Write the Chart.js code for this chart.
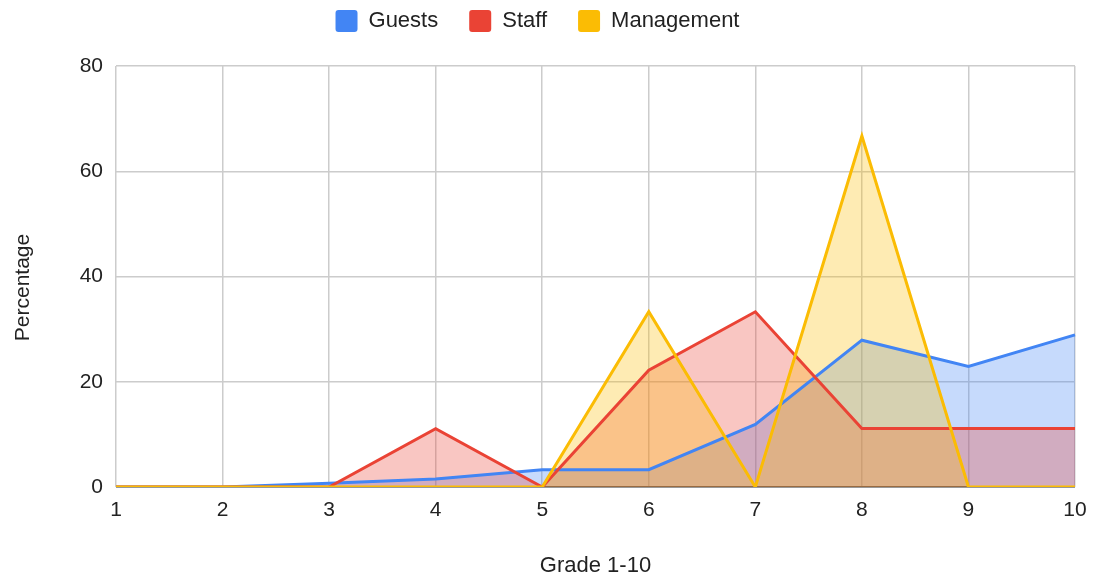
<!DOCTYPE html>
<html>
<head>
<meta charset="utf-8">
<script src="https://cdn.jsdelivr.net/npm/chart.js@4"></script>
<style>
  html, body { margin: 0; padding: 0; background: #fff; }
  #wrap { width: 1098px; height: 579px; position: relative; }
</style>
</head>
<body>
<div id="wrap"><canvas id="c"></canvas></div>
<script>
// Grade distribution, percentage of respondents per grade
const grades = ['1', '2', '3', '4', '5', '6', '7', '8', '9', '10'];
const guests = [0, 0, 0.7, 1.5, 3.3, 3.3, 11.9, 27.9, 22.9, 28.9];
const staff = [0, 0, 0, 11.1, 0, 22.2, 33.3, 11.1, 11.1, 11.1];
const management = [0, 0, 0, 0, 0, 33.3, 0, 66.7, 0, 0];
const yTicks = [0, 20, 40, 60, 80];
const yTitle = 'Percentage';

const FONT = "'Liberation Sans', Arial, sans-serif";
const LEGEND_BOTTOM = 66; // plot area starts right below the legend band

function series(label, data, line, fill, order) {
  return {
    label, data, order,
    borderColor: line,
    backgroundColor: fill,
    borderWidth: 3,
    fill: 'origin',
    pointRadius: 0,
    pointHoverRadius: 0,
    tension: 0
  };
}

// Give the legend a fixed band height so the plot starts where wanted
const legendBand = {
  id: 'legendBand',
  afterInit(chart) {
    const lg = chart.legend;
    if (!lg) return;
    const fit = lg.fit;
    lg.fit = function () {
      fit.call(this);
      if (this.isHorizontal()) this.height = LEGEND_BOTTOM - chart.options.layout.padding.top;
    };
  }
};

// Vertical axis title, drawn a little below the plot's middle
const yAxisTitle = {
  id: 'yAxisTitle',
  afterDraw(chart) {
    const { ctx, chartArea } = chart;
    ctx.save();
    ctx.translate(23, (chartArea.top + chartArea.bottom) / 2 + 11);
    ctx.rotate(-Math.PI / 2);
    ctx.fillStyle = '#222';
    ctx.font = '21px ' + FONT;
    ctx.textAlign = 'center';
    ctx.textBaseline = 'middle';
    ctx.fillText(yTitle, 0, 0);
    ctx.restore();
  }
};

new Chart(document.getElementById('c'), {
  type: 'line',
  plugins: [legendBand, yAxisTitle],
  data: {
    labels: grades,
    datasets: [
      series('Guests', guests, '#4285F4', 'rgba(66,133,244,0.3)', 2),
      series('Staff', staff, '#EA4335', 'rgba(234,67,53,0.3)', 1),
      series('Management', management, '#FBBC04', 'rgba(251,188,4,0.3)', 0)
    ]
  },
  options: {
    responsive: true,
    maintainAspectRatio: false,
    animation: false,
    layout: { padding: { top: -21, right: 23, left: 0, bottom: 0 } },
    plugins: {
      filler: { drawTime: 'beforeDatasetsDraw' },
      legend: {
        position: 'top',
        labels: {
          color: '#222',
          font: { family: FONT, size: 22 },
          boxWidth: 22,
          boxHeight: 22,
          padding: 31,
          useBorderRadius: true,
          borderRadius: 3,
          generateLabels(chart) {
            return chart.data.datasets.map((ds, i) => ({
              text: ds.label,
              fillStyle: ds.borderColor,
              strokeStyle: ds.borderColor,
              lineWidth: 0,
              borderRadius: 3,
              datasetIndex: i,
              fontColor: '#222'
            }));
          }
        }
      },
      tooltip: { enabled: false }
    },
    scales: {
      x: {
        offset: false,
        grid: { color: '#cccccc', lineWidth: 1.5, drawTicks: false },
        border: { display: false },
        ticks: { color: '#222', font: { family: FONT, size: 21 }, padding: 11, maxRotation: 0 },
        title: {
          display: true, text: 'Grade 1-10', color: '#222',
          font: { family: FONT, size: 22 }, padding: { top: 20, bottom: 0 }
        },
        afterFit(s) { s.height = 92; }
      },
      y: {
        min: 0, max: 80,
        afterBuildTicks(s) { s.ticks = yTicks.map(v => ({ value: v })); },
        grid: {
          color: ctx => (ctx.tick && ctx.tick.value === 0) ? '#333333' : '#cccccc',
          lineWidth: 1.5,
          drawTicks: false
        },
        border: { display: false },
        ticks: { color: '#222', font: { family: FONT, size: 21 }, padding: 13 },
        afterFit(s) { s.width = 116; }
      }
    }
  }
});
</script>
</body>
</html>
